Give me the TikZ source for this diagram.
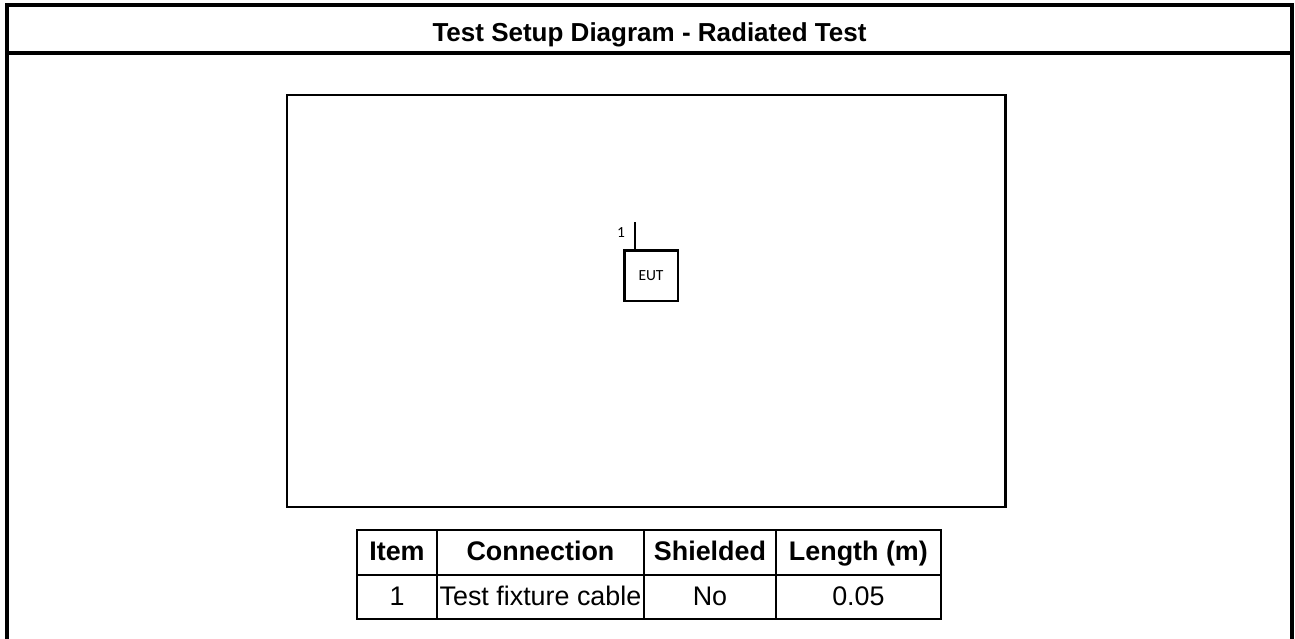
\documentclass[tikz,border=0pt]{standalone}
\usepackage{fontspec}
\setmainfont{Liberation Sans}
\newfontfamily\eutfont{Carlito}
\usetikzlibrary{positioning, calc}

\begin{document}
\begin{tikzpicture}[x=0.02cm, y=-0.02cm, line join=miter,
    frame/.style={line width=2.3pt},
    room/.style={line width=1.7pt},
    cell/.style={draw, line width=1.1pt, inner sep=0pt, outer sep=0pt, minimum height=0.89cm, text height=2.4ex, text depth=0.6ex, font=\fontsize{15.3}{18}\selectfont},
    head/.style={cell, font=\fontsize{15.3}{18}\selectfont\bfseries}]
    \useasboundingbox (0,0) rectangle (1295,639);

    % outer frame and title
    \draw[frame] (7,639) -- (7,5) -- (1292,5) -- (1292,639);
    \draw[frame] (7,53) -- (1292,53);
    \node[font=\fontsize{14.8}{17}\selectfont\bfseries] (title) at (649.5,35) {Test Setup Diagram - Radiated Test};

    % test area
    \draw[room] (287,95) rectangle (1005,507);

    % EUT with cable 1
    \node[draw, room, inner sep=0pt, minimum width=1.08cm, minimum height=1.02cm, font=\eutfont\fontsize{8.8}{10}\selectfont] (eut) at (651,275.5) {EUT};
    \coordinate (ant) at (635,222);
    \draw[line width=1.4pt] (eut.north -| ant) -- (ant);
    \node[font=\eutfont\fontsize{8.8}{10}\selectfont, inner sep=0pt] (lbl) at (621,233) {1};

    % cable table
    \node[head, minimum width=1.6cm] (item) at (397,552.5) {Item};
    \node[head, minimum width=4.14cm, right=0pt of item] (conn) {Connection};
    \node[head, minimum width=2.64cm, right=0pt of conn] (shld) {Shielded};
    \node[head, minimum width=3.3cm, right=0pt of shld] (len) {Length (m)};
    \node[cell, minimum width=1.6cm, below=0pt of item] (item1) {1};
    \node[cell, minimum width=4.14cm, below=0pt of conn] (conn1) {Test fixture cable};
    \node[cell, minimum width=2.64cm, below=0pt of shld] (shld1) {No};
    \node[cell, minimum width=3.3cm, below=0pt of len] (len1) {0.05};
\end{tikzpicture}
\end{document}
